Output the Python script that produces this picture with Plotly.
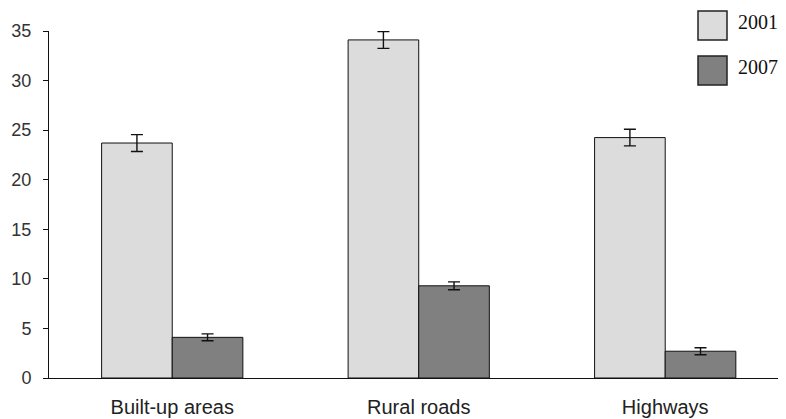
import plotly.graph_objects as go

categories = ["Built-up areas", "Rural roads", "Highways"]
values_2001 = [23.7, 34.1, 24.25]
err_2001 = [0.85, 0.85, 0.84]
values_2007 = [4.1, 9.3, 2.7]
err_2007 = [0.35, 0.4, 0.35]
series_names = ["2001", "2007"]
y_ticks = [0, 5, 10, 15, 20, 25, 30, 35]

colors = ["#dcdcdc", "#808080"]

fig = go.Figure()
for name, vals, errs, col in zip(series_names, [values_2001, values_2007], [err_2001, err_2007], colors):
    fig.add_trace(go.Bar(
        x=categories, y=vals, name=name,
        marker=dict(color=col, line=dict(color="#111", width=1)),
        error_y=dict(type="data", array=errs, visible=True, color="#111", thickness=1.4, width=6),
        showlegend=False,
    ))

# The page body adds an 8px offset; figure sized to compensate.
fig.update_layout(
    width=778, height=411,
    margin=dict(l=41, r=1, t=23, b=41),
    barmode="group", bargap=0.427, bargroupgap=0,
    plot_bgcolor="white", paper_bgcolor="white",
    font=dict(family="Liberation Sans, Arial, sans-serif", size=18, color="#333"),
    xaxis=dict(showline=True, linecolor="#111", linewidth=1, ticks="",
               ticklabelstandoff=11, tickfont=dict(size=20, color="#222"), showgrid=False,
               range=[-0.5, 2.486]),
    yaxis=dict(range=[0, 35], tickvals=y_ticks, showline=True, linecolor="#111", linewidth=1,
               ticks="outside", ticklen=5, tickcolor="#111", showgrid=False, zeroline=False,
               ticklabelstandoff=8, tickfont=dict(size=18, color="#333")),
)

# legend drawn manually (paper coordinates)
boxes = [(0.974, 1.0576), (0.8444, 0.928)]
text_y = [1.0268, 0.8963]
for (y0, y1), ty, name, col in zip(boxes, text_y, series_names, colors):
    fig.add_shape(type="rect", xref="paper", yref="paper",
                  x0=0.8818, x1=0.9212, y0=y0, y1=y1,
                  fillcolor=col, line=dict(color="#222", width=1.5))
    fig.add_annotation(xref="paper", yref="paper", x=0.934, xanchor="left",
                       y=ty, yanchor="middle", text=name, showarrow=False,
                       font=dict(family="Liberation Serif, Times New Roman, serif", size=20, color="#111"))

fig.write_html("out.html")
